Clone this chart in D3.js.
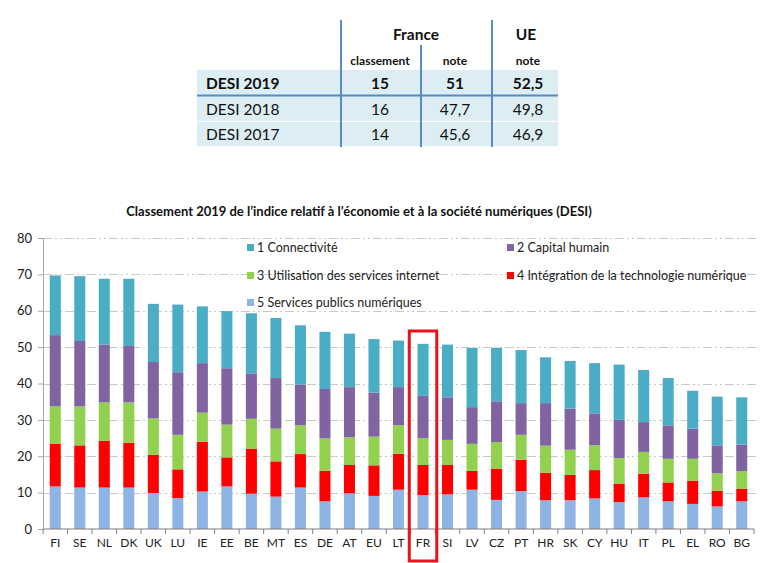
<!DOCTYPE html>
<html><head><meta charset="utf-8">
<script src="https://cdn.jsdelivr.net/npm/d3@7"></script>
<style>
html,body{margin:0;padding:0;background:#fff;}
svg{display:block;font-family:Lato,"Open Sans",sans-serif;}
</style></head>
<body><svg id="c" width="763" height="563"></svg>
<script>
// ---------- DATA ----------
const categories = ["FI","SE","NL","DK","UK","LU","IE","EE","BE","MT","ES","DE","AT","EU","LT","FR","SI","LV","CZ","PT","HR","SK","CY","HU","IT","PL","EL","RO","BG"];
const connectivite    = [16.4,17.8,18.1,18.5,16.0,18.6,15.6,15.7,16.5,16.5,16.3,15.7,14.7,14.7,12.8,14.3,14.5,16.3,14.7,14.6,12.6,13.1,13.8,15.2,14.3,13.0,10.4,13.4,13.0];
const capitalHumain   = [19.6,18.0,15.9,15.5,15.5,17.2,13.6,15.5,12.5,13.9,11.2,13.6,13.8,12.1,10.5,11.6,11.7,10.1,11.2, 8.7,11.7,11.3, 8.8,10.5, 8.2, 9.2, 8.3, 7.7, 7.3];
const utilisation     = [10.3,10.7,10.5,11.1,10.0, 9.5, 8.0, 9.0, 8.2, 9.0, 7.9, 8.9, 7.6, 7.9, 7.8, 7.4, 6.9, 7.4, 7.3, 6.9, 7.4, 6.9, 6.8, 7.0, 6.0, 6.5, 6.0, 4.8, 4.8];
const integration     = [11.7,11.6,12.9,12.3,10.5, 7.9,13.7, 8.0,12.4, 9.7, 9.2, 8.4, 7.8, 8.4, 9.9, 8.3, 8.1, 5.2, 8.6, 8.6, 7.6, 7.0, 7.8, 5.1, 6.5, 5.2, 6.4, 4.3, 3.5];
const servicesPublics = [11.7,11.4,11.4,11.4, 9.9, 8.5,10.3,11.7, 9.7, 8.9,11.4, 7.6, 9.8, 9.1,10.8, 9.3, 9.5,10.8, 8.0,10.4, 7.9, 7.9, 8.4, 7.4, 8.7, 7.6, 6.9, 6.2, 7.6];
const seriesNames = ["1 Connectivité","2 Capital humain","3 Utilisation des services internet","4 Intégration de la technologie numérique","5 Services publics numériques"];
const yTicks = [0,10,20,30,40,50,60,70,80];
const highlighted = "FR";
const chartTitle = "Classement 2019 de l\u2019indice relatif à l\u2019économie et à la société numériques (DESI)";

// table
const tableRowLabels = ["DESI 2019","DESI 2018","DESI 2017"];
const franceClassement = ["15","16","14"];
const franceNote = ["51","47,7","45,6"];
const ueNote = ["52,5","49,8","46,9"];

// ---------- DRAW ----------
const svg = d3.select("#c");
const colors = {
  "1 Connectivité":"#4BACC6",
  "2 Capital humain":"#8064A2",
  "3 Utilisation des services internet":"#92D050",
  "4 Intégration de la technologie numérique":"#FF0000",
  "5 Services publics numériques":"#8DB4E2"
};
const seriesArrays = {
  "1 Connectivité":connectivite,
  "2 Capital humain":capitalHumain,
  "3 Utilisation des services internet":utilisation,
  "4 Intégration de la technologie numérique":integration,
  "5 Services publics numériques":servicesPublics
};

// ---- table ----
const T = {x0:197, x1:558, top:20, hdr2:45, r0:70, rowH:[26,26,25], v1:341, v2:421, v3:492};
const lineC = "#5B88C6", shade = "#DCEEF4";
const colX = [380, 455, 528];
let ry = T.r0;
tableRowLabels.forEach((lab,i)=>{
  svg.append("rect").attr("x",T.x0).attr("y",ry).attr("width",T.x1-T.x0).attr("height",T.rowH[i]-1).attr("fill",shade);
  const bold = i===0;
  const yb = ry + T.rowH[i]/2 + 5.5;
  svg.append("text").attr("x",T.x0+9).attr("y",yb).attr("font-size",15.5).attr("font-weight",bold?700:400).attr("fill","#111").text(lab);
  [franceClassement[i],franceNote[i],ueNote[i]].forEach((v,j)=>{
    svg.append("text").attr("x",colX[j]).attr("y",yb).attr("text-anchor","middle").attr("font-size",15.5).attr("font-weight",bold?700:400).attr("fill","#111").text(v);
  });
  ry += T.rowH[i];
});
svg.append("line").attr("x1",T.x0).attr("x2",T.x1).attr("y1",T.r0+T.rowH[0]-0.5).attr("y2",T.r0+T.rowH[0]-0.5).attr("stroke",lineC).attr("stroke-width",2);
const tBottom = T.r0 + d3.sum(T.rowH);
svg.append("line").attr("x1",T.v1).attr("x2",T.v1).attr("y1",T.top).attr("y2",tBottom).attr("stroke",lineC).attr("stroke-width",2);
svg.append("line").attr("x1",T.v2).attr("x2",T.v2).attr("y1",T.hdr2).attr("y2",tBottom).attr("stroke",lineC).attr("stroke-width",2);
svg.append("line").attr("x1",T.v3).attr("x2",T.v3).attr("y1",T.top).attr("y2",tBottom).attr("stroke",lineC).attr("stroke-width",2);
svg.append("text").attr("x",416).attr("y",40).attr("text-anchor","middle").attr("font-size",15.5).attr("font-weight",700).attr("fill","#111").text("France");
svg.append("text").attr("x",526).attr("y",40).attr("text-anchor","middle").attr("font-size",15.5).attr("font-weight",700).attr("fill","#111").text("UE");
[["classement",colX[0]],["note",colX[1]],["note",colX[2]]].forEach(([t,x])=>{
  svg.append("text").attr("x",x).attr("y",65).attr("text-anchor","middle").attr("font-size",12).attr("font-weight",700).attr("fill","#111").text(t);
});

// ---- chart ----
const M = {left:43, right:754, top:238, bottom:529};
const x = d3.scaleBand().domain(categories).range([M.left, M.right]).paddingInner(0.55).paddingOuter(0.275);
const xOuter = d3.scaleBand().domain(categories).range([M.left, M.right]);
const y = d3.scaleLinear().domain([0,80]).range([M.bottom, M.top]);

svg.append("text").attr("x",359).attr("y",216).attr("text-anchor","middle").attr("font-size",13).attr("font-weight",700).attr("fill","#111").text(chartTitle);

// gridlines
svg.append("g").selectAll("line").data(yTicks.filter(d=>d>0)).join("line")
  .attr("x1",M.left).attr("x2",M.right+3).attr("y1",d=>Math.round(y(d))+0.5).attr("y2",d=>Math.round(y(d))+0.5)
  .attr("stroke","#C9C9C9").attr("stroke-width",1).attr("stroke-dasharray","9,3,2,3,2,3");

// stacked bars
const table = categories.map((c,i)=>{
  const o = {cat:c};
  seriesNames.forEach(s=>o[s]=seriesArrays[s][i]);
  return o;
});
const stackOrder = seriesNames.slice().reverse();
const stacked = d3.stack().keys(stackOrder)(table);
svg.append("g").selectAll("g").data(stacked).join("g").attr("fill",d=>colors[d.key])
  .selectAll("rect").data(d=>d).join("rect")
  .attr("x",d=>x(d.data.cat)).attr("width",x.bandwidth())
  .attr("y",d=>y(d[1])).attr("height",d=>y(d[0])-y(d[1]));

// y axis
const yAxis = svg.append("g").attr("transform",`translate(${M.left},0)`)
  .call(d3.axisLeft(y).tickValues(yTicks).tickSize(5).tickPadding(6));
yAxis.select(".domain").attr("stroke","#A6A6A6");
yAxis.selectAll(".tick line").attr("stroke","#A6A6A6");
yAxis.selectAll("text").attr("font-size",13).attr("fill","#222").attr("font-family","Lato");

// x axis
const xg = svg.append("g").attr("transform",`translate(0,${M.bottom})`);
xg.append("line").attr("x1",M.left).attr("x2",M.right).attr("stroke","#7F7F7F");
xg.selectAll("line.t").data(categories.concat(["__end"])).join("line").attr("class","t")
  .attr("x1",(d,i)=>M.left + i*xOuter.step()).attr("x2",(d,i)=>M.left + i*xOuter.step())
  .attr("y1",0).attr("y2",5).attr("stroke","#7F7F7F");
xg.selectAll("text").data(categories).join("text")
  .attr("x",d=>xOuter(d)+xOuter.bandwidth()/2).attr("y",18)
  .attr("text-anchor","middle").attr("font-size",12).attr("fill","#222").text(d=>d);

// legend
const legendPos = [[247,248],[507,248],[247,276],[507,276],[247,303]];
seriesNames.forEach((s,i)=>{
  const [lx,ly] = legendPos[i];
  svg.append("rect").attr("x",lx).attr("y",ly-4).attr("width",7).attr("height",7).attr("fill",colors[s]);
  svg.append("text").attr("x",lx+10).attr("y",ly+4).attr("font-size",12.5).attr("fill","#222").text(s);
});

// highlight frame
const fc = xOuter(highlighted) + xOuter.bandwidth()/2;
svg.append("rect").attr("x",fc-13.75).attr("y",331).attr("width",27.5).attr("height",230)
  .attr("fill","none").attr("stroke","#E8141B").attr("stroke-width",3);
</script></body></html>
